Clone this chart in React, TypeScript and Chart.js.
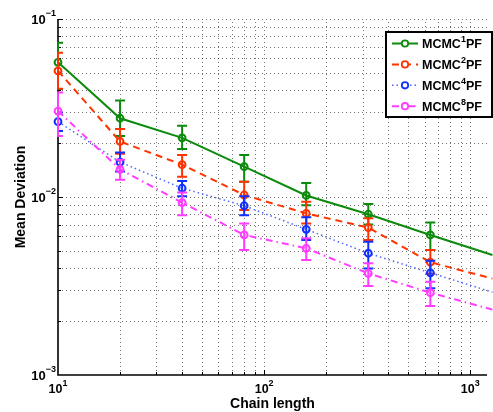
import React, { useEffect, useRef } from 'react';
import { Chart, registerables } from 'chart.js';

Chart.register(...registerables);

// ---- data ----
const chainLengths = [10, 20, 40, 80, 160, 320, 640, 1280];

const mcmc1Mean = [0.0571, 0.0277, 0.0215, 0.0148, 0.0102, 0.008, 0.00612, 0.00472];
const mcmc1Low = [0.0404, 0.022, 0.0186, 0.0122, 0.009, 0.007, 0.00504, null];
const mcmc1High = [0.0736, 0.0349, 0.0251, 0.0172, 0.012, 0.00914, 0.00718, null];

const mcmc2Mean = [0.0511, 0.0205, 0.0152, 0.01026, 0.00809, 0.00673, 0.0043, 0.00348];
const mcmc2Low = [0.0405, 0.0175, 0.013, 0.00846, 0.0071, 0.00573, 0.0037, null];
const mcmc2High = [0.0647, 0.0241, 0.0172, 0.0122, 0.0094, 0.0076, 0.00504, null];

const mcmc4Mean = [0.0265, 0.0157, 0.0112, 0.00893, 0.00658, 0.00483, 0.00375, 0.00292];
const mcmc4Low = [0.0235, 0.0139, 0.0101, 0.0079, 0.00573, 0.00397, 0.00307, null];
const mcmc4High = [0.0298, 0.0178, 0.0123, 0.0101, 0.0077, 0.0056, 0.00438, null];

const mcmc8Mean = [0.0304, 0.0143, 0.0093, 0.00612, 0.00515, 0.00372, 0.0029, 0.00233];
const mcmc8Low = [0.022, 0.0125, 0.0079, 0.00504, 0.00443, 0.00316, 0.00244, null];
const mcmc8High = [0.0386, 0.0162, 0.0106, 0.0071, 0.00586, 0.00424, 0.00334, null];

const seriesBase = ['MCMC', 'MCMC', 'MCMC', 'MCMC'];
const seriesSup = ['1', '2', '4', '8'];
const seriesTail = ['PF', 'PF', 'PF', 'PF'];

const xMajorTicks = [10, 100, 1000];
const xTickExp = ['1', '2', '3'];
const yMajorTicks = [0.1, 0.01, 0.001];
const yTickExp = ['\u22121', '\u22122', '\u22123'];

const xTitle = 'Chain length';
const yTitle = 'Mean Deviation';

// ---- styles ----
const FONT = '"Liberation Sans", Arial, Helvetica, sans-serif';
const styles = [
  { line: '#0b8a0b', mark: '#0b8a0b', dash: [] as number[], width: 2 },
  { line: '#ff3300', mark: '#ff3300', dash: [7, 5], width: 2 },
  { line: '#4a66ff', mark: '#1030ff', dash: [1.5, 3], width: 1.5 },
  { line: '#ff3cff', mark: '#ff3cff', dash: [7, 4, 1.5, 4], width: 2 },
];

const means = [mcmc1Mean, mcmc2Mean, mcmc4Mean, mcmc8Mean];
const lows = [mcmc1Low, mcmc2Low, mcmc4Low, mcmc8Low];
const highs = [mcmc1High, mcmc2High, mcmc4High, mcmc8High];

function minorValues(min: number, max: number): number[] {
  const out: number[] = [];
  let dec = Math.pow(10, Math.floor(Math.log10(min)));
  while (dec <= max) {
    for (let k = 1; k <= 9; k++) {
      const v = k * dec;
      if (v >= min * 0.9999 && v <= max * 1.0001) out.push(v);
    }
    dec *= 10;
  }
  return out;
}

function drawPow(
  ctx: CanvasRenderingContext2D,
  base: string,
  exp: string,
  x: number,
  y: number,
  align: 'right' | 'center',
  baseSize: number,
  expSize: number,
  raise: number
) {
  ctx.font = `bold ${baseSize}px ${FONT}`;
  const wb = ctx.measureText(base).width;
  ctx.font = `bold ${expSize}px ${FONT}`;
  const we = ctx.measureText(exp).width;
  const total = wb + we;
  const sx = align === 'right' ? x - total : x - total / 2;
  ctx.textAlign = 'left';
  ctx.textBaseline = 'middle';
  ctx.font = `bold ${baseSize}px ${FONT}`;
  ctx.fillText(base, sx, y);
  ctx.font = `bold ${expSize}px ${FONT}`;
  ctx.fillText(exp, sx + wb, y - raise);
}

const decorPlugin = {
  id: 'matlabDecor',
  beforeDatasetsDraw(chart: any) {
    const { ctx, chartArea: a, scales } = chart;
    const x = scales.x;
    const y = scales.y;
    ctx.save();
    // grid
    ctx.strokeStyle = 'rgba(0,0,0,0.55)';
    ctx.lineWidth = 1;
    ctx.setLineDash([1, 3]);
    for (const v of minorValues(x.min, x.max)) {
      const px = Math.round(x.getPixelForValue(v)) + 0.5;
      if (px <= a.left + 1 || px > a.right) continue;
      ctx.beginPath();
      ctx.moveTo(px, a.bottom);
      ctx.lineTo(px, a.top);
      ctx.stroke();
    }
    for (const v of minorValues(y.min, y.max)) {
      const py = Math.round(y.getPixelForValue(v)) + 0.5;
      if (py >= a.bottom - 1 || py < a.top - 1) continue;
      ctx.beginPath();
      ctx.moveTo(a.left, py);
      ctx.lineTo(a.right, py);
      ctx.stroke();
    }
    ctx.setLineDash([]);
    // axis ticks (inward)
    ctx.strokeStyle = '#000';
    ctx.lineWidth = 1;
    for (const v of minorValues(x.min, x.max)) {
      const px = Math.round(x.getPixelForValue(v)) + 0.5;
      if (px <= a.left + 1 || px > a.right) continue;
      const major = xMajorTicks.includes(v);
      ctx.beginPath();
      ctx.moveTo(px, a.bottom);
      ctx.lineTo(px, a.bottom - (major ? 5 : 3));
      ctx.stroke();
    }
    for (const v of minorValues(y.min, y.max)) {
      const py = Math.round(y.getPixelForValue(v)) + 0.5;
      if (py >= a.bottom - 1 || py < a.top - 1) continue;
      const major = yMajorTicks.some((m) => Math.abs(m - v) / m < 1e-6);
      ctx.beginPath();
      ctx.moveTo(a.left, py);
      ctx.lineTo(a.left + (major ? 5 : 3), py);
      ctx.stroke();
    }
    // axes
    ctx.lineWidth = 1.6;
    ctx.beginPath();
    ctx.moveTo(a.left, a.top);
    ctx.lineTo(a.left, a.bottom);
    ctx.lineTo(a.right, a.bottom);
    ctx.stroke();
    ctx.restore();
  },
  afterDatasetDraw(chart: any, args: any) {
    const i = args.index;
    const { ctx, chartArea: a, scales } = chart;
    const x = scales.x;
    const y = scales.y;
    const lo = lows[i];
    const hi = highs[i];
    ctx.save();
    ctx.beginPath();
    ctx.rect(a.left - 1, a.top - 2, a.right - a.left + 2, a.bottom - a.top + 4);
    ctx.clip();
    ctx.strokeStyle = styles[i].mark;
    ctx.lineWidth = 2;
    ctx.setLineDash([]);
    for (let k = 0; k < chainLengths.length; k++) {
      const l = lo[k];
      const h = hi[k];
      if (l == null || h == null) continue;
      const px = x.getPixelForValue(chainLengths[k]);
      const pl = y.getPixelForValue(l);
      const ph = y.getPixelForValue(h);
      ctx.beginPath();
      ctx.moveTo(px, pl);
      ctx.lineTo(px, ph);
      ctx.moveTo(px - 5, pl);
      ctx.lineTo(px + 5, pl);
      ctx.moveTo(px - 5, ph);
      ctx.lineTo(px + 5, ph);
      ctx.stroke();
    }
    ctx.restore();
  },
  afterDraw(chart: any) {
    const { ctx, chartArea: a, scales } = chart;
    const x = scales.x;
    const y = scales.y;
    ctx.save();
    ctx.fillStyle = '#000';
    // tick labels
    xMajorTicks.forEach((v, k) => {
      const px = x.getPixelForValue(v);
      drawPow(ctx, '10', xTickExp[k], px, a.bottom + 15, 'center', 12.5, 9, 6);
    });
    yMajorTicks.forEach((v, k) => {
      const py = y.getPixelForValue(v);
      drawPow(ctx, '10', yTickExp[k], a.left - 2, py + 1, 'right', 13, 9, 6);
    });
    // titles
    ctx.font = `bold 14px ${FONT}`;
    ctx.textAlign = 'center';
    ctx.textBaseline = 'alphabetic';
    ctx.fillText(xTitle, (a.left + a.right) / 2, 408);
    ctx.save();
    ctx.translate(25, (a.top + a.bottom) / 2);
    ctx.rotate(-Math.PI / 2);
    ctx.fillText(yTitle, 0, 0);
    ctx.restore();

    // legend
    const lx0 = 386;
    const ly0 = 32;
    const lx1 = 492;
    const ly1 = 117;
    ctx.fillStyle = '#fff';
    ctx.fillRect(lx0, ly0, lx1 - lx0, ly1 - ly0);
    ctx.strokeStyle = '#000';
    ctx.lineWidth = 2;
    ctx.setLineDash([]);
    ctx.strokeRect(lx0, ly0, lx1 - lx0, ly1 - ly0);
    for (let i = 0; i < 4; i++) {
      const ry = ly0 + 11.5 + i * 20.9;
      const st = styles[i];
      ctx.strokeStyle = st.line;
      ctx.lineWidth = st.width;
      ctx.setLineDash(st.dash);
      ctx.beginPath();
      ctx.moveTo(392, ry);
      ctx.lineTo(418, ry);
      ctx.stroke();
      ctx.setLineDash([]);
      ctx.strokeStyle = st.mark;
      ctx.lineWidth = 1.8;
      ctx.fillStyle = '#fff';
      ctx.beginPath();
      ctx.arc(405, ry, 3.2, 0, Math.PI * 2);
      ctx.fill();
      ctx.stroke();
      ctx.fillStyle = '#000';
      ctx.font = `bold 12.5px ${FONT}`;
      ctx.textAlign = 'left';
      ctx.textBaseline = 'middle';
      const tx = 422;
      ctx.fillText(seriesBase[i], tx, ry + 1);
      const w1 = ctx.measureText(seriesBase[i]).width;
      ctx.font = `bold 9px ${FONT}`;
      ctx.fillText(seriesSup[i], tx + w1, ry - 4);
      const w2 = ctx.measureText(seriesSup[i]).width;
      ctx.font = `bold 12.5px ${FONT}`;
      ctx.fillText(seriesTail[i], tx + w1 + w2, ry + 1);
    }
    ctx.restore();
  },
};

export default function App() {
  const ref = useRef<HTMLCanvasElement | null>(null);
  useEffect(() => {
    if (!ref.current) return;
    const datasets = means.map((m, i) => ({
      label: seriesBase[i] + seriesSup[i] + seriesTail[i],
      data: chainLengths.map((c, k) => ({ x: c, y: m[k] })),
      borderColor: styles[i].line,
      borderWidth: styles[i].width,
      borderDash: styles[i].dash,
      pointBorderColor: styles[i].mark,
      pointBackgroundColor: 'rgba(255,255,255,0)',
      pointBorderWidth: 2,
      pointRadius: chainLengths.map((_, k) => (k === chainLengths.length - 1 ? 0 : 3.4)),
      pointStyle: 'circle',
      tension: 0,
      fill: false,
      clip: false as any,
      order: 4 - i,
    }));
    const chart = new Chart(ref.current, {
      type: 'line',
      data: { datasets },
      options: {
        animation: false,
        responsive: false,
        devicePixelRatio: 1,
        parsing: true,
        layout: { padding: { left: 58, top: 19, right: 0, bottom: 37 } },
        scales: {
          x: { type: 'logarithmic', min: 10, max: 1205, display: false },
          y: { type: 'logarithmic', min: 0.001, max: 0.1, display: false },
        },
        plugins: {
          legend: { display: false },
          tooltip: { enabled: false },
        },
        events: [],
      },
      plugins: [decorPlugin],
    });
    return () => chart.destroy();
  }, []);
  return (
    <canvas
      ref={ref}
      width={493}
      height={412}
      style={{ position: 'absolute', left: 0, top: 0, width: 493, height: 412 }}
    />
  );
}
